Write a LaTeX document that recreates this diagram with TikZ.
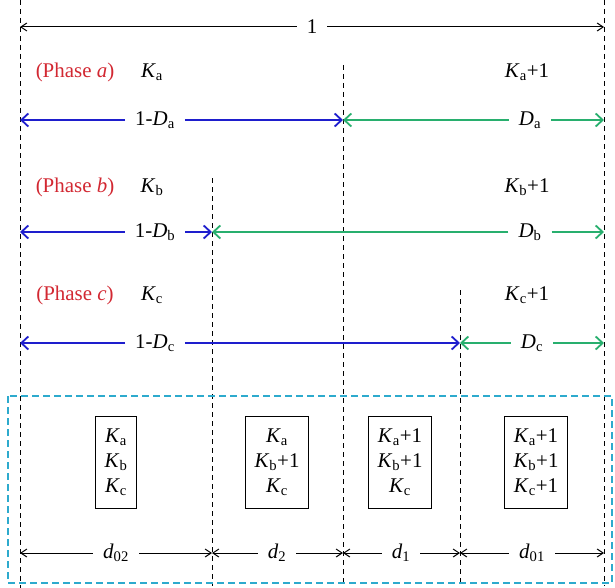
\documentclass[tikz,border=0pt]{standalone}
\usepackage{fontspec}
\setmainfont{Liberation Serif}
\usetikzlibrary{arrows.meta, positioning, calc}

\definecolor{phred}{RGB}{210,40,50}
\definecolor{phblue}{RGB}{30,30,205}
\definecolor{phgreen}{RGB}{40,175,110}
\definecolor{phcyan}{RGB}{45,170,205}

\newcommand{\Kv}[1]{\textit{K}\textsubscript{#1}}
\newcommand{\Dv}[1]{\textit{D}\textsubscript{#1}}
\newcommand{\dv}[1]{\textit{d}\textsubscript{#1}}

\begin{document}
\begin{tikzpicture}[
    x=1bp, y=-1bp,
    font=\fontsize{21}{25}\selectfont,
    guide/.style={line width=0.8bp, dash pattern=on 5bp off 4bp},
    lab/.style={inner xsep=10bp, inner ysep=2bp},
    blk/.style={-{Straight Barb[length=6bp, width=8bp]}, line width=1bp},
    barr/.style={-{Straight Barb[length=7bp, width=13bp]}, line width=1.8bp, phblue},
    garr/.style={-{Straight Barb[length=7bp, width=13bp]}, line width=1.8bp, phgreen},
    state/.style={draw, line width=0.9bp, align=center, minimum height=92bp,
                  inner xsep=9bp}
]
\useasboundingbox (0,0) rectangle (615,588);
% dashed boundaries of the switching instants
\coordinate (L0) at (20,0);    \coordinate (L1) at (20,588);
\coordinate (R0) at (604,0);   \coordinate (R1) at (604,586);
\coordinate (A0) at (343,65);  \coordinate (A1) at (343,586);
\coordinate (B0) at (212,178); \coordinate (B1) at (212,586);
\coordinate (C0) at (460,290); \coordinate (C1) at (460,586);
\draw[guide] (L0) -- (L1); \draw[guide] (R0) -- (R1);
\draw[guide] (A0) -- (A1); \draw[guide] (B0) -- (B1);
\draw[guide] (C0) -- (C1);

% whole period
\node[lab] (one) at (312,27) {1};
\coordinate (oneL) at (20,27); \coordinate (oneR) at (604,27);
\draw[blk] (one) -- (oneL); \draw[blk] (one) -- (oneR);

% phase a
\node[phred] (pha) at (75,72) {(Phase \textit{a})};
\node (Ka)  at (152,72) {\Kv{a}};
\node (Ka1) at (527,72) {\Kv{a}+1};
\coordinate (aL) at (20,120); \coordinate (aM) at (343,120);
\coordinate (aR) at (604,120);
\node[lab] (oDa) at (155,120) {1-\Dv{a}};
\node[lab] (Da)  at (530,120) {\Dv{a}};
\draw[barr] (oDa) -- (aL); \draw[barr] (oDa) -- (aM);
\draw[garr] (Da) -- (aM);  \draw[garr] (Da) -- (aR);

% phase b
\node[phred] (phb) at (75,187) {(Phase \textit{b})};
\node (Kb)  at (152,187) {\Kv{b}};
\node (Kb1) at (527,187) {\Kv{b}+1};
\coordinate (bL) at (20,232); \coordinate (bM) at (212,232);
\coordinate (bR) at (604,232);
\node[lab] (oDb) at (155,232) {1-\Dv{b}};
\node[lab] (Db)  at (530,232) {\Dv{b}};
\draw[barr] (oDb) -- (bL); \draw[barr] (oDb) -- (bM);
\draw[garr] (Db) -- (bM);  \draw[garr] (Db) -- (bR);

% phase c
\node[phred] (phc) at (75,295) {(Phase \textit{c})};
\node (Kc)  at (152,295) {\Kv{c}};
\node (Kc1) at (527,295) {\Kv{c}+1};
\coordinate (cL) at (20,343); \coordinate (cM) at (460,343);
\coordinate (cR) at (604,343);
\node[lab] (oDc) at (155,343) {1-\Dv{c}};
\node[lab] (Dc)  at (532,343) {\Dv{c}};
\draw[barr] (oDc) -- (cL); \draw[barr] (oDc) -- (cM);
\draw[garr] (Dc) -- (cM);  \draw[garr] (Dc) -- (cR);

% resulting switching states
\draw[phcyan, line width=1.6bp, dash pattern=on 7bp off 4bp]
  (8,396) rectangle (612,583);
\node[state] (s02) at (116,462) {\Kv{a}\\\Kv{b}\\\Kv{c}};
\node[state] (s2)  at (277,462) {\Kv{a}\\\Kv{b}+1\\\Kv{c}};
\node[state] (s1)  at (400,462) {\Kv{a}+1\\\Kv{b}+1\\\Kv{c}};
\node[state] (s01) at (536,462) {\Kv{a}+1\\\Kv{b}+1\\\Kv{c}+1};

\coordinate (dL) at (20,553);  \coordinate (dB) at (212,553);
\coordinate (dA) at (343,553); \coordinate (dC) at (460,553);
\coordinate (dR) at (604,553);
\node[lab] (d02) at (116,553) {\dv{02}};
\node[lab] (d2)  at (277,553) {\dv{2}};
\node[lab] (d1)  at (401,553) {\dv{1}};
\node[lab] (d01) at (532,553) {\dv{01}};
\draw[blk] (d02) -- (dL); \draw[blk] (d02) -- (dB);
\draw[blk] (d2) -- (dB);  \draw[blk] (d2) -- (dA);
\draw[blk] (d1) -- (dA);  \draw[blk] (d1) -- (dC);
\draw[blk] (d01) -- (dC); \draw[blk] (d01) -- (dR);
\end{tikzpicture}
\end{document}
